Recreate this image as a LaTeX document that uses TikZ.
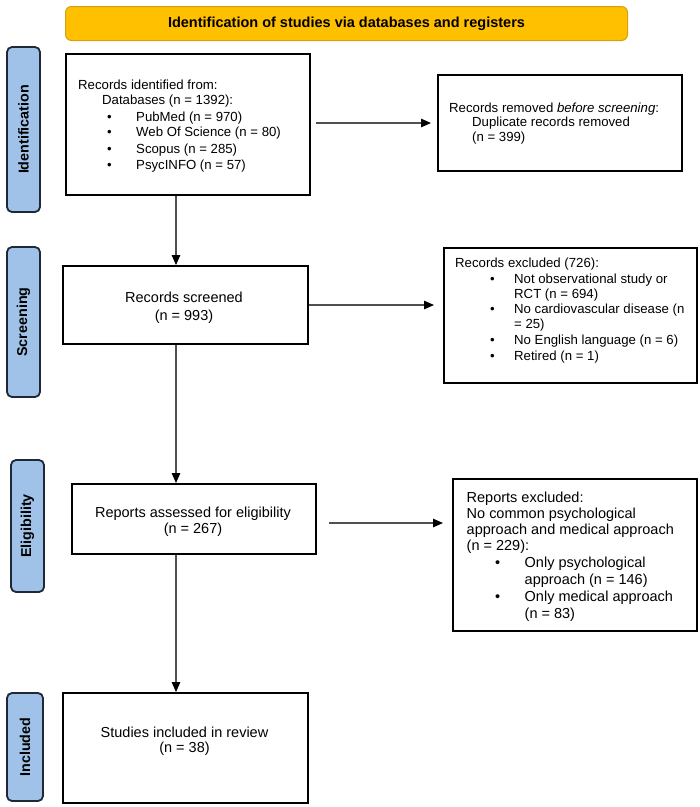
\documentclass[tikz,border=0pt]{standalone}
\usepackage{fontspec}
\setmainfont{Liberation Sans}
\usetikzlibrary{arrows.meta,calc}
\definecolor{gold}{RGB}{255,192,0}
\definecolor{goldline}{RGB}{214,160,20}
\definecolor{labblue}{RGB}{160,194,232}
\definecolor{labline}{RGB}{30,40,55}
\definecolor{arrgray}{RGB}{80,80,80}
\begin{document}
\begin{tikzpicture}[x=1pt,y=-1pt,
 box/.style={draw=black, line width=2pt, fill=white, anchor=north west, inner sep=0pt},
 banner/.style={draw=goldline, line width=1pt, fill=gold, rounded corners=6pt, anchor=north west, inner sep=0pt, font=\fontsize{14.5}{16}\selectfont\bfseries},
 side/.style={draw=labline, line width=1.8pt, fill=labblue, rounded corners=5pt, rotate=90, inner sep=0pt, font=\fontsize{14.3}{16}\selectfont\bfseries},
 tA/.style={anchor=base west, inner sep=0pt, font=\fontsize{13.2}{15}\selectfont},
 tB/.style={anchor=base west, inner sep=0pt, font=\fontsize{14.5}{16}\selectfont},
 tC/.style={anchor=base, inner sep=0pt, font=\fontsize{14.5}{16}\selectfont},
 arr/.style={draw=arrgray, line width=1.2pt, -{Triangle[length=10pt,width=8.5pt,color=black]}}
]
\useasboundingbox (0,0) rectangle (700,807);

% banner
\node[banner, minimum width=562pt, minimum height=34pt] (ban) at (65,6) {Identification of studies via databases and registers};

% side labels
\node[side, minimum width=165pt, minimum height=33pt] (labId) at (23.5,129.5) {Identification};
\node[side, minimum width=150pt, minimum height=33pt] (labSc) at (23.5,322) {Screening};
\node[side, minimum width=132pt, minimum height=33pt] (labEl) at (27.5,526) {Eligibility};
\node[side, minimum width=108pt, minimum height=36pt] (labIn) at (25,747) {Included};

% boxes
\node[box, minimum width=244pt, minimum height=141pt] (idbox) at (65,53) {};
\node[box, minimum width=244pt, minimum height=96pt] (rmbox) at (437,74) {};
\node[box, minimum width=245pt, minimum height=78pt] (scbox) at (62,265) {};
\node[box, minimum width=253pt, minimum height=135pt] (exbox) at (443,247) {};
\node[box, minimum width=244pt, minimum height=70pt] (asbox) at (71,483) {};
\node[box, minimum width=244pt, minimum height=152pt] (rxbox) at (452,478) {};
\node[box, minimum width=245pt, minimum height=110pt] (inbox) at (62,692) {};

% identified text
\node[tA] (id1) at (78,89.5) {Records identified from:};
\node[tA] (id2) at (102,104.5) {Databases (n = 1392):};
\node[tA] (id3b) at (107,121) {\textbullet};
\node[tA] (id3) at (136,121) {PubMed (n = 970)};
\node[tA] (id4b) at (107,136.5) {\textbullet};
\node[tA] (id4) at (136,136.5) {Web Of Science (n = 80)};
\node[tA] (id5b) at (107,153) {\textbullet};
\node[tA] (id5) at (136,153) {Scopus (n = 285)};
\node[tA] (id6b) at (107,169) {\textbullet};
\node[tA] (id6) at (136,169) {PsycINFO (n = 57)};

% removed text
\node[tA] (rm1) at (449,112.5) {Records removed \textit{before screening}:};
\node[tA] (rm2) at (472,126.5) {Duplicate records removed};
\node[tA] (rm3) at (472,141.5) {(n = 399)};

% screened text
\node[tC] (sc1) at (184,302) {Records screened};
\node[tC] (sc2) at (184,320) {(n = 993)};

% excluded text
\node[tA] (ex1) at (455,267.5) {Records excluded (726):};
\node[tA] (ex2b) at (490,283.5) {\textbullet};
\node[tA] (ex2) at (514,283.5) {Not observational study or};
\node[tA] (ex3) at (514,298) {RCT (n = 694)};
\node[tA] (ex4b) at (490,313.5) {\textbullet};
\node[tA] (ex4) at (514,313.5) {No cardiovascular disease (n};
\node[tA] (ex5) at (514,328.5) {= 25)};
\node[tA] (ex6b) at (490,344.5) {\textbullet};
\node[tA] (ex6) at (514,344.5) {No English language (n = 6)};
\node[tA] (ex7b) at (490,360.5) {\textbullet};
\node[tA] (ex7) at (514,360.5) {Retired (n = 1)};

% assessed text
\node[tC] (as1) at (193,517) {Reports assessed for eligibility};
\node[tC] (as2) at (193,533) {(n = 267)};

% reports excluded text
\node[tB] (rx1) at (466.5,502) {Reports excluded:};
\node[tB] (rx2) at (466.5,518) {No common psychological};
\node[tB] (rx3) at (466.5,534) {approach and medical approach};
\node[tB] (rx4) at (466.5,550) {(n = 229):};
\node[tB] (rx5b) at (495,567) {\textbullet};
\node[tB] (rx5) at (524.5,567) {Only psychological};
\node[tB] (rx6) at (524.5,584) {approach (n = 146)};
\node[tB] (rx7b) at (495,601) {\textbullet};
\node[tB] (rx7) at (524.5,601) {Only medical approach};
\node[tB] (rx8) at (524.5,618) {(n = 83)};

% included text
\node[tC] (in1) at (184.5,737) {Studies included in review};
\node[tC] (in2) at (184.5,752) {(n = 38)};

% connectors
\coordinate (vx) at (176,0);
\draw[arr] ([xshift=5pt]idbox.east |- rmbox.west) -- ([xshift=-6pt]rmbox.west);
\draw[arr] (scbox.east) -- ($(scbox.east -| exbox.west)+(-9pt,0)$);
\draw[arr] ($(asbox.east)+(12pt,-4pt)$) -- ($(asbox.east -| rxbox.west)+(-9pt,-4pt)$);
\draw[arr] (idbox.south -| vx) -- (scbox.north -| vx);
\draw[arr] (scbox.south -| vx) -- (asbox.north -| vx);
\draw[arr] (asbox.south -| vx) -- (inbox.north -| vx);
\end{tikzpicture}
\end{document}
